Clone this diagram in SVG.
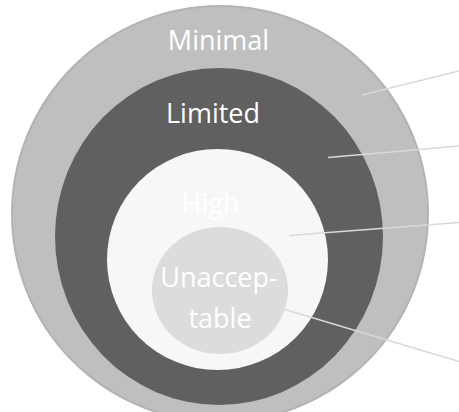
<svg xmlns="http://www.w3.org/2000/svg" width="459" height="412" viewBox="0 0 459 412">
  <style>
    .lbl { font-family: "Open Sans", "Liberation Sans", sans-serif; font-size: 27px; text-anchor: middle; fill: #ffffff; }
    .conn { stroke: #d9d9d9; stroke-width: 1.6; fill: none; }
  </style>
  <rect width="459" height="412" fill="#ffffff"/>
  <g id="minimal">
    <circle cx="220" cy="214" r="208" fill="#bfbfbf" stroke="#b3b3b3" stroke-width="2"/>
    <text class="lbl" x="218.5" y="50">Minimal</text>
  </g>
  <g id="limited">
    <ellipse cx="219" cy="236.5" rx="164" ry="168.5" fill="#606060"/>
    <text class="lbl" x="213" y="123">Limited</text>
  </g>
  <g id="high">
    <circle cx="217.5" cy="259.5" r="110.5" fill="#f7f7f7"/>
    <text class="lbl" x="210.5" y="213">High</text>
  </g>
  <g id="unacceptable">
    <ellipse cx="220" cy="290.5" rx="68" ry="63.5" fill="#dcdcdc"/>
    <text class="lbl" x="219" y="287">Unaccep-</text>
    <text class="lbl" x="220" y="328">table</text>
  </g>
  <g id="connectors">
    <line class="conn" x1="362" y1="95" x2="459" y2="71"/>
    <line class="conn" x1="328" y1="157.5" x2="459" y2="146"/>
    <line class="conn" x1="289" y1="235.5" x2="459" y2="222.5"/>
    <line class="conn" x1="285" y1="309.5" x2="459" y2="361.5"/>
  </g>
</svg>
